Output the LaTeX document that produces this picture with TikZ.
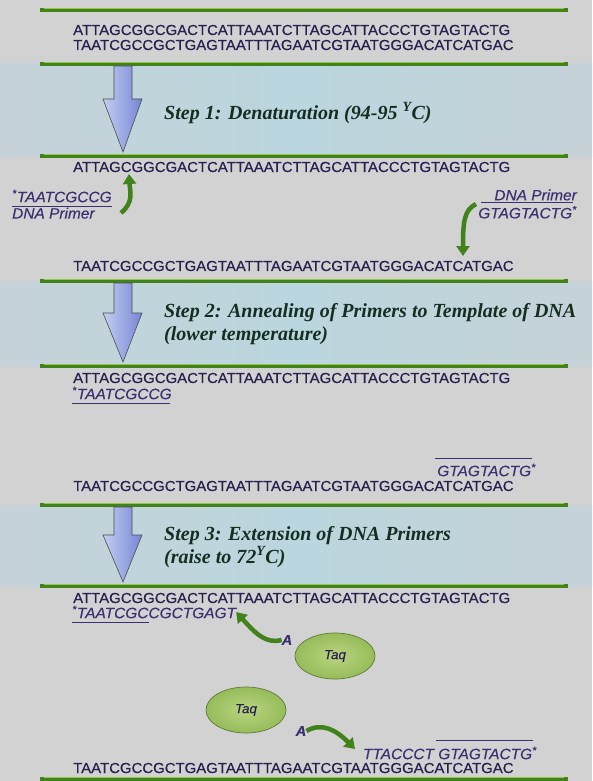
\documentclass[tikz,border=0pt]{standalone}
\usepackage{fontspec}
\setmainfont{Liberation Serif}
\newfontfamily\seqfont[FakeStretch=1.03, FakeBold=0.5]{Liberation Sans}
\newfontfamily\labelfont[FakeStretch=1.03, FakeBold=0.3]{Liberation Sans}
\definecolor{bggray}{RGB}{210,210,210}
\definecolor{bandmid}{RGB}{186,214,222}
\definecolor{bandedge}{RGB}{198,210,216}
\definecolor{dnagreen}{RGB}{66,130,26}
\definecolor{dnalight}{RGB}{150,196,76}
\definecolor{seqink}{RGB}{40,32,78}
\definecolor{stepink}{RGB}{22,46,34}
\definecolor{primerink}{RGB}{60,48,112}
\definecolor{arrowblue}{RGB}{118,134,214}
\definecolor{arrowlight}{RGB}{196,206,240}
\definecolor{taqgreen}{RGB}{150,188,90}
\definecolor{taqlight}{RGB}{186,212,128}
\usetikzlibrary{arrows.meta, positioning, shapes.geometric}

\begin{document}
\begin{tikzpicture}[
  x=1pt, y=-1pt,
  strand/.style={line width=4.5pt, draw=dnagreen},
  band/.style={left color=bandedge, right color=bandedge, middle color=bandmid},
  seq/.style={anchor=west, inner sep=0pt, text=seqink,
              font=\seqfont\fontsize{14.5}{16}\selectfont},
  primer/.style={inner sep=0pt, text=primerink,
                 font=\labelfont\itshape\fontsize{15}{17}\selectfont},
  primerline/.style={draw=primerink, line width=1.3pt},
  stepnote/.style={anchor=west, align=left, inner sep=0pt, text=stepink,
                   font=\bfseries\itshape\fontsize{20}{23}\selectfont},
  bigarrow/.style={left color=arrowlight, right color=arrowblue,
                   draw=black!70, line width=0.6pt},
  grarrow/.style={-{Triangle[length=10pt,width=13pt]}, line width=4.5pt,
                  draw=dnagreen},
  taq/.style={ellipse, draw=taqgreen!65!black, line width=0.7pt,
              inner color=taqlight, outer color=taqgreen,
              minimum width=80pt, minimum height=46pt, text=seqink,
              font=\labelfont\itshape\fontsize{13}{15}\selectfont},
  base/.style={text=primerink, inner sep=0pt,
               font=\seqfont\bfseries\itshape\fontsize{14}{16}\selectfont}
]
\useasboundingbox (0,0) rectangle (592,781);
\fill[bggray] (0,0) rectangle (592,781);

% temperature bands
\shade[band] (0,64) rectangle (592,156);
\shade[band] (0,281) rectangle (592,366);
\shade[band] (0,505) rectangle (592,586);

% strands
\foreach \y in {10,64,156,281,366,505,586,779} {
  \draw[strand] (40,\y) -- (568,\y);
  \draw[dnalight, line width=1pt] (44,\y-1.4) -- (564,\y-1.4);
}

% step arrows
\foreach \t/\h/\b in {66/99/152, 283/313/362, 507/535/582} {
  \shade[bigarrow] (114,\t) -- (132,\t) -- (132,\h) -- (142,\h)
    -- (123,\b) -- (103,\h) -- (114,\h) -- cycle;
}

% double strand
\node[seq] (top1) at (73,30) {ATTAGCGGCGACTCATTAAATCTTAGCATTACCCTGTAGTACTG};
\node[seq] (top2) at (73,45) {TAATCGCCGCTGAGTAATTTAGAATCGTAATGGGACATCATGAC};
\node[stepnote] (step1) at (164,113) {Step 1: Denaturation (94-95 \textsuperscript{Y}C)};

% step 1 result
\node[seq] (den1) at (73,167) {ATTAGCGGCGACTCATTAAATCTTAGCATTACCCTGTAGTACTG};
\node[primer, anchor=west] (fwd) at (12,196) {\textsuperscript{*}TAATCGCCG};
\node[primer, below=5pt of fwd.south west, anchor=north west] (fwdname) {DNA Primer};
\draw[primerline] (fwd.south west) ++(0,4) -- ++(100,0);
\node[primer, anchor=east] (revname) at (577,195) {DNA Primer};
\node[primer, below=5pt of revname.south east, anchor=north east] (rev) {GTAGTACTG\textsuperscript{*}};
\draw[primerline] (rev.north east) ++(-4,-3) -- ++(-92,0);
\node[seq] (den2) at (73,266) {TAATCGCCGCTGAGTAATTTAGAATCGTAATGGGACATCATGAC};
\coordinate (fwdtail) at (121,213);
\coordinate (fwdtip) at (129,174);
\coordinate (revtail) at (476,204);
\coordinate (revtip) at (463,256);
\draw[grarrow] (fwdtail) .. controls (134,202) and (130,192) .. (fwdtip);
\draw[grarrow] (revtail) .. controls (464,210) and (463,222) .. (revtip);

\node[stepnote] (step2) at (164,324) {Step 2: Annealing of Primers to Template of DNA\\(lower temperature)};

% step 2 result
\node[seq] (ann1) at (73,378) {ATTAGCGGCGACTCATTAAATCTTAGCATTACCCTGTAGTACTG};
\node[primer, anchor=west] (annfwd) at (72,393) {\textsuperscript{*}TAATCGCCG};
\draw[primerline] (annfwd.south west) ++(0,4) -- ++(98,0);
\node[primer, anchor=east] (annrev) at (536,470) {GTAGTACTG\textsuperscript{*}};
\draw[primerline] (annrev.north east) ++(-4,-5) -- ++(-97,0);
\node[seq] (ann2) at (73,486) {TAATCGCCGCTGAGTAATTTAGAATCGTAATGGGACATCATGAC};

\node[stepnote] (step3) at (164,547) {Step 3: Extension of DNA Primers\\(raise to 72\textsuperscript{Y}C)};

% step 3 result
\node[seq] (ext1) at (73,598) {ATTAGCGGCGACTCATTAAATCTTAGCATTACCCTGTAGTACTG};
\node[primer, anchor=west] (extfwd) at (72,612) {\textsuperscript{*}TAATCGCCGCTGAGT};
\draw[primerline] (extfwd.south west) ++(0,4) -- ++(77,0);
\node[taq] (taq1) at (335,656) {Taq};
\node[taq] (taq2) at (246,710) {Taq};
\node[base] (dA1) at (287,640) {A};
\node[base] (dA2) at (301,731) {A};
\draw[grarrow] (dA1.west) .. controls (266,644) and (256,634) .. (extfwd.east);
\node[primer, anchor=east] (extrev) at (537,753) {TTACCCT GTAGTACTG\textsuperscript{*}};
\draw[primerline] (extrev.north east) ++(-4,-6) -- ++(-97,0);
\coordinate (extrevtip) at (355,749);
\draw[grarrow] (dA2.east) .. controls (322,722) and (336,730) .. (extrevtip);
\node[seq] (ext2) at (73,768) {TAATCGCCGCTGAGTAATTTAGAATCGTAATGGGACATCATGAC};
\end{tikzpicture}
\end{document}
